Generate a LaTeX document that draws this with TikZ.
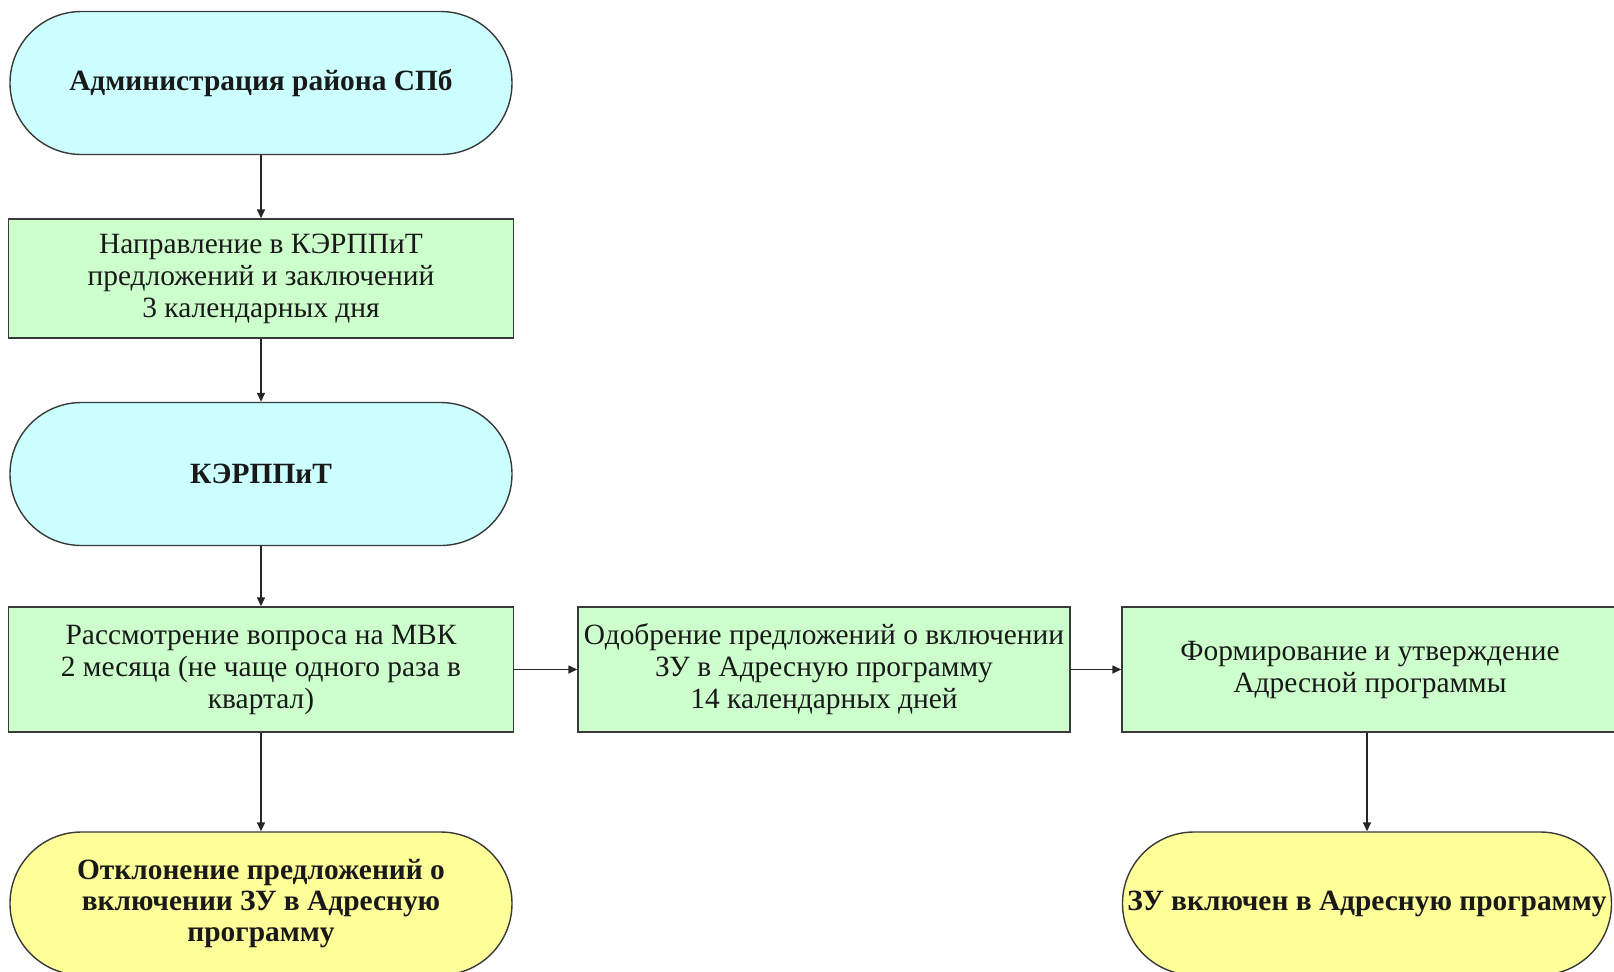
\documentclass[tikz,border=0pt]{standalone}
\usepackage{fontspec}
\usepackage{tikz}
\usepackage{xcolor}
\usetikzlibrary{arrows.meta}
\setmainfont{Liberation Serif}

\definecolor{ovalcyan}{HTML}{CCFFFF}
\definecolor{boxgreen}{HTML}{CCFFCC}
\definecolor{ovalyellow}{HTML}{FFFF99}
\definecolor{edgegray}{HTML}{3A3A3A}

\tikzset{
    stepbox/.style={draw=edgegray, line width=0.7pt, fill=boxgreen, align=center,
        inner sep=0pt, minimum height=62.5pt, text=black!90,
        font=\fontsize{14.7}{16}\selectfont},
    ovalnode/.style={draw=edgegray, line width=0.7pt, align=center, inner sep=0pt,
        minimum height=71.5pt, rounded corners=35.7pt, text=black!90,
        font=\fontsize{14.7}{15.5}\selectfont\bfseries},
    flowarrow/.style={draw=black!85, line width=0.7pt, -{Triangle[length=4.5pt,width=4pt]}}
}

\begin{document}
\begin{tikzpicture}[x=0.5pt, y=-0.5pt]
        \useasboundingbox (0,0) rectangle (1614,971);

        % left column
        \node[ovalnode, fill=ovalcyan, minimum width=251pt] (adm) at (261,83)
            {Администрация района СПб};
        \node[stepbox, minimum width=252.5pt, minimum height=59.5pt] (napr) at (261,278.5)
            {Направление в КЭРППиТ\\предложений и заключений\\3 календарных дня};
        \node[ovalnode, fill=ovalcyan, minimum width=251pt] (kerp) at (261,474)
            {КЭРППиТ};
        \node[stepbox, minimum width=252.5pt] (mvk) at (261,669.5)
            {Рассмотрение вопроса на МВК\\2 месяца (не чаще одного раза в\\квартал)};
        \node[ovalnode, fill=ovalyellow, minimum width=251pt] (otkl) at (261,903.5)
            {Отклонение предложений о\\включении ЗУ в Адресную\\программу};

        % middle and right
        \node[stepbox, minimum width=246pt] (odob) at (824,669.5)
            {Одобрение предложений о включении\\ЗУ в Адресную программу\\14 календарных дней};
        \node[stepbox, minimum width=248pt] (form) at (1370,669.5)
            {Формирование и утверждение\\Адресной программы};
        \node[ovalnode, fill=ovalyellow, minimum width=244.5pt] (vkl) at (1367,903.5)
            {ЗУ включен в Адресную программу};

        % arrows
        \draw[flowarrow] (adm) -- (napr);
        \draw[flowarrow] (napr) -- (kerp);
        \draw[flowarrow] (kerp) -- (mvk);
        \draw[flowarrow] (mvk) -- (otkl);
        \draw[flowarrow] (mvk) -- (odob);
        \draw[flowarrow] (odob) -- (form);
        \draw[flowarrow] (form.south -| vkl.north) -- (vkl.north);
    \end{tikzpicture}
\end{document}
